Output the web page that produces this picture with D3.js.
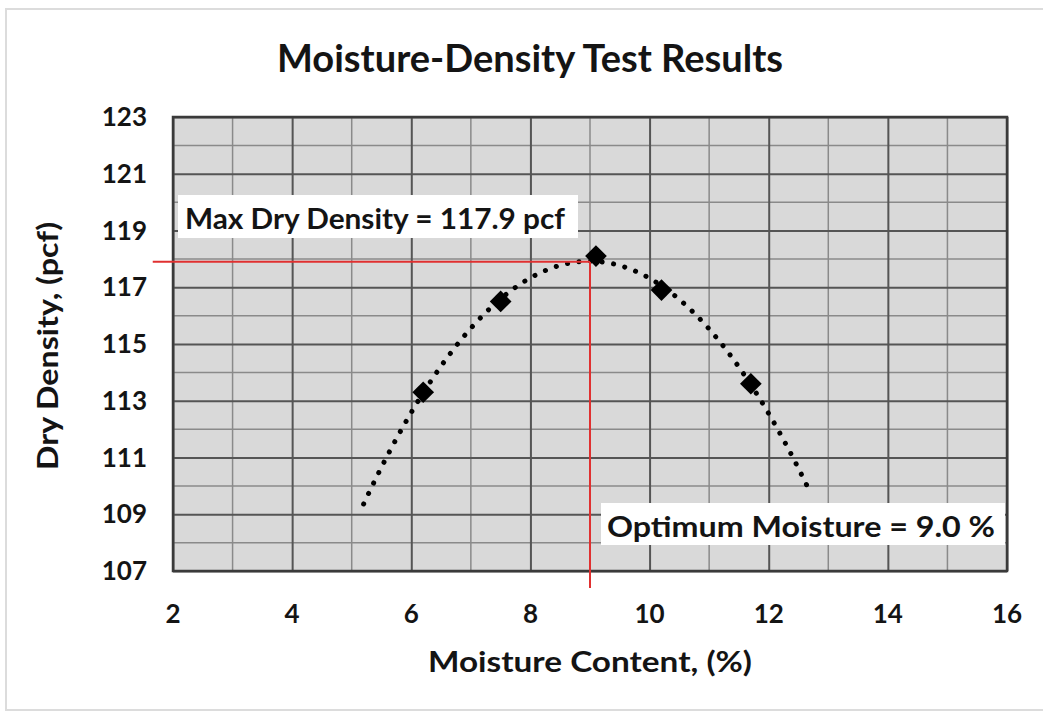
<!DOCTYPE html>
<html lang="en">
<head>
  <meta charset="UTF-8">
  <script src="https://cdn.jsdelivr.net/npm/d3@7"></script>
  <title>Moisture-Density Test Results</title>
  <style>
    body { margin: 0; background: #fff; }
    text { font-family: Lato, "Open Sans", sans-serif; font-weight: bold; fill: #141414; }
  </style>
</head>
<body>
  <svg width="1043" height="713"></svg>
  <script>
    // data
    var moisture = [6.2, 7.5, 9.1, 10.2, 11.7];
    var density  = [113.3, 116.5, 118.1, 116.9, 113.6];
    var trendFrom = 5.2, trendTo = 12.7;      // trendline extends past the points
    var maxDensity = 117.9, optMoisture = 9.0;
    var xTicks = [2, 4, 6, 8, 10, 12, 14, 16];
    var yTicks = [107, 109, 111, 113, 115, 117, 119, 121, 123];
    var maxLabel = "Max Dry Density = 117.9  pcf";
    var optLabel = "Optimum Moisture = 9.0 %";

    var svg = d3.select("svg");
    var margin = {top: 117, right: 36, bottom: 142, left: 173};
    var width = 1043 - margin.left - margin.right;
    var height = 713 - margin.top - margin.bottom;

    // outer frame
    svg.append("rect")
      .attr("x", 6).attr("y", 9).attr("width", 1050).attr("height", 701)
      .attr("fill", "none").attr("stroke", "#dcdcdc").attr("stroke-width", 2);

    var x = d3.scaleLinear().domain([2, 16]).range([0, width]);
    var y = d3.scaleLinear().domain([107, 123]).range([height, 0]);

    var g = svg.append("g").attr("transform", "translate(" + margin.left + "," + margin.top + ")");

    g.append("rect").attr("width", width).attr("height", height).attr("fill", "#d9d9d9");

    // minor grid
    g.append("g").selectAll("line").data(d3.range(3, 16, 2)).enter().append("line")
      .attr("x1", function(d){ return x(d) }).attr("x2", function(d){ return x(d) })
      .attr("y1", 0).attr("y2", height)
      .attr("stroke", "#8a8a8a").attr("stroke-width", 1.5);
    g.append("g").selectAll("line").data(d3.range(108, 123, 2)).enter().append("line")
      .attr("y1", function(d){ return y(d) }).attr("y2", function(d){ return y(d) })
      .attr("x1", 0).attr("x2", width)
      .attr("stroke", "#8a8a8a").attr("stroke-width", 1.5);

    // major grid via axes
    g.append("g").attr("class", "grid")
      .call(d3.axisBottom(x).tickValues(xTicks).tickSize(height).tickFormat(""))
      .call(function(a){ a.select(".domain").remove() });
    g.append("g").attr("class", "grid")
      .call(d3.axisLeft(y).tickValues(yTicks).tickSize(-width).tickFormat(""))
      .call(function(a){ a.select(".domain").remove() });
    g.selectAll(".grid line").attr("stroke", "#555").attr("stroke-width", 2);

    g.append("rect").attr("width", width).attr("height", height)
      .attr("fill", "none").attr("stroke", "#3a3a3a").attr("stroke-width", 2.5);

    // tick labels
    g.selectAll(".xl").data(xTicks).enter().append("text")
      .attr("x", function(d){ return x(d) }).attr("y", height + 52)
      .attr("text-anchor", "middle").style("font-size", "26px")
      .text(function(d){ return d });
    g.selectAll(".yl").data(yTicks).enter().append("text")
      .attr("x", -26).attr("y", function(d){ return y(d) + 9 })
      .attr("text-anchor", "end").style("font-size", "26px")
      .text(function(d){ return d });

    // titles
    svg.append("text").attr("x", 530).attr("y", 72).attr("text-anchor", "middle")
      .style("font-size", "38px").attr("textLength", 506).attr("lengthAdjust", "spacingAndGlyphs")
      .text("Moisture-Density Test Results");
    svg.append("text").attr("x", 590).attr("y", 672).attr("text-anchor", "middle")
      .style("font-size", "29px").attr("textLength", 324).attr("lengthAdjust", "spacingAndGlyphs")
      .text("Moisture Content, (%)");
    svg.append("text").attr("transform", "translate(58,346) rotate(-90)").attr("text-anchor", "middle")
      .style("font-size", "29px").attr("textLength", 248).attr("lengthAdjust", "spacingAndGlyphs")
      .text("Dry Density, (pcf)");

    // quadratic least-squares trendline (Excel style)
    function fit2(xs, ys) {
      var S = [0,0,0,0,0], T = [0,0,0];
      xs.forEach(function(xi, i){
        for (var k = 0; k < 5; k++) S[k] += Math.pow(xi, k);
        for (var k2 = 0; k2 < 3; k2++) T[k2] += ys[i] * Math.pow(xi, k2);
      });
      var M = [[S[0],S[1],S[2],T[0]],[S[1],S[2],S[3],T[1]],[S[2],S[3],S[4],T[2]]];
      for (var c = 0; c < 3; c++) {
        for (var r = c + 1; r < 3; r++) {
          var f = M[r][c] / M[c][c];
          for (var j = c; j < 4; j++) M[r][j] -= f * M[c][j];
        }
      }
      var b = [0,0,0];
      for (var r2 = 2; r2 >= 0; r2--) {
        var s = M[r2][3];
        for (var j2 = r2 + 1; j2 < 3; j2++) s -= M[r2][j2] * b[j2];
        b[r2] = s / M[r2][r2];
      }
      return function(v){ return b[0] + b[1]*v + b[2]*v*v };
    }
    var trend = fit2(moisture, density);
    var trendX = d3.range(trendFrom, trendTo + 0.001, 0.05);
    g.append("path")
      .attr("d", d3.line().x(function(d){ return x(d) }).y(function(d){ return y(trend(d)) })(trendX))
      .attr("fill", "none").attr("stroke", "#000").attr("stroke-width", 5)
      .attr("stroke-linecap", "round").attr("stroke-dasharray", "0.1 11.5");

    // red guide lines
    g.append("line")
      .attr("x1", x(1.66)).attr("x2", x(optMoisture)).attr("y1", y(maxDensity)).attr("y2", y(maxDensity))
      .attr("stroke", "#e03030").attr("stroke-width", 2);
    g.append("line")
      .attr("x1", x(optMoisture)).attr("x2", x(optMoisture)).attr("y1", y(maxDensity)).attr("y2", y(106.4))
      .attr("stroke", "#e03030").attr("stroke-width", 2);

    // points
    g.selectAll(".pt").data(moisture).enter().append("path")
      .attr("transform", function(d, i){ return "translate(" + x(d) + "," + y(density[i]) + ")" })
      .attr("d", d3.symbol().type(d3.symbolDiamond2).size(300))
      .attr("fill", "#000");

    // annotation boxes
    g.append("rect").attr("x", 5).attr("y", 78).attr("width", 400).attr("height", 43).attr("fill", "#fff");
    g.append("text").attr("x", 12).attr("y", 112).style("font-size", "29px")
      .attr("textLength", 380).attr("lengthAdjust", "spacingAndGlyphs").text(maxLabel);
    g.append("rect").attr("x", 428).attr("y", 386).attr("width", width - 430).attr("height", 42).attr("fill", "#fff");
    g.append("text").attr("x", 434).attr("y", 420).style("font-size", "29px")
      .attr("textLength", 388).attr("lengthAdjust", "spacingAndGlyphs").text(optLabel);
  </script>
</body>
</html>
